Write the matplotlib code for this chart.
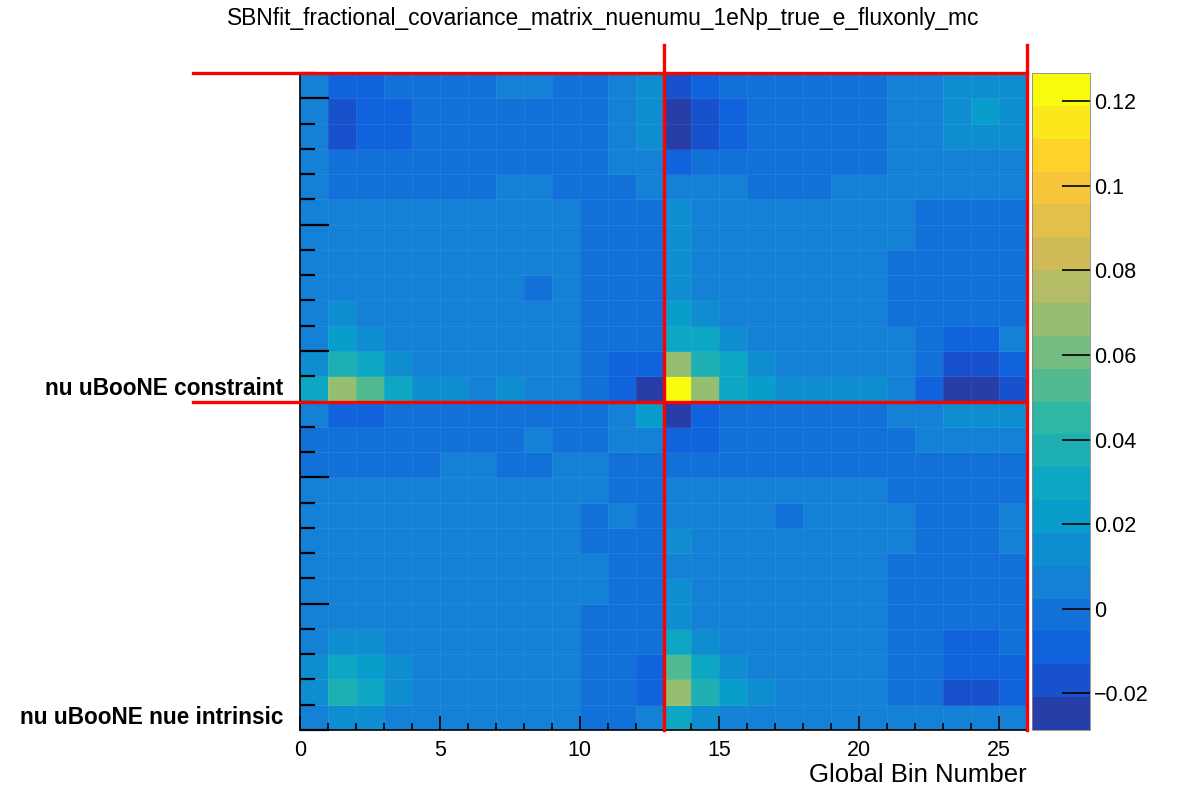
import matplotlib
matplotlib.use("Agg")
import matplotlib.pyplot as plt
import numpy as np
from matplotlib.colors import LinearSegmentedColormap, ListedColormap, BoundaryNorm
from matplotlib.ticker import MultipleLocator
from matplotlib.transforms import blended_transform_factory

plt.rcParams['font.family'] = ['Liberation Sans', 'DejaVu Sans']

title = "SBNfit_fractional_covariance_matrix_nuenumu_1eNp_true_e_fluxonly_mc"
x_label = "Global Bin Number"
n_bins = 26
channel_starts = [0, 13]
channel_names = ["nu uBooNE nue intrinsic", "nu uBooNE constraint"]
block_edges = [13, 26]
z_min, z_max = -0.0287, 0.1267
n_contours = 20
cbar_ticks = [-0.02, 0.0, 0.02, 0.04, 0.06, 0.08, 0.1, 0.12]
cbar_labels = ["\u22120.02", "0", "0.02", "0.04", "0.06", "0.08", "0.1", "0.12"]

# fractional covariance, row = y bin (0 at bottom), column = x bin
frac_cov = [
    [0.006, 0.014, 0.014, 0.006, 0.006, 0.006, 0.006, 0.006, 0.006, 0.006, -0.002, -0.002, 0.006,
     0.030, 0.014, 0.006, 0.006, 0.006, 0.006, 0.006, 0.006, 0.006, 0.006, 0.006, 0.006, 0.006],
    [0.014, 0.037, 0.030, 0.014, 0.006, 0.006, 0.006, 0.006, 0.006, 0.006, -0.002, -0.002, -0.009,
     0.068, 0.037, 0.022, 0.014, 0.006, 0.006, 0.006, 0.006, -0.002, -0.002, -0.017, -0.017, -0.009],
    [0.014, 0.030, 0.022, 0.014, 0.006, 0.006, 0.006, 0.006, 0.006, 0.006, -0.002, -0.002, -0.009,
     0.053, 0.030, 0.014, 0.006, 0.006, 0.006, 0.006, 0.006, -0.002, -0.002, -0.009, -0.009, -0.009],
    [0.006, 0.014, 0.014, 0.006, 0.006, 0.006, 0.006, 0.006, 0.006, 0.006, -0.002, -0.002, -0.002,
     0.030, 0.014, 0.006, 0.006, 0.006, 0.006, 0.006, 0.006, -0.002, -0.002, -0.009, -0.009, -0.002],
    [0.006, 0.006, 0.006, 0.006, 0.006, 0.006, 0.006, 0.006, 0.006, 0.006, -0.002, -0.002, -0.002,
     0.014, 0.006, 0.006, 0.006, 0.006, 0.006, 0.006, 0.006, -0.002, -0.002, -0.002, -0.002, -0.002],
    [0.006, 0.006, 0.006, 0.006, 0.006, 0.006, 0.006, 0.006, 0.006, 0.006, 0.006, -0.002, -0.002,
     0.014, 0.006, 0.006, 0.006, 0.006, 0.006, 0.006, 0.006, -0.002, -0.002, -0.002, -0.002, -0.002],
    [0.006, 0.006, 0.006, 0.006, 0.006, 0.006, 0.006, 0.006, 0.006, 0.006, 0.006, -0.002, -0.002,
     0.006, 0.006, 0.006, 0.006, 0.006, 0.006, 0.006, 0.006, -0.002, -0.002, -0.002, -0.002, -0.002],
    [0.006, 0.006, 0.006, 0.006, 0.006, 0.006, 0.006, 0.006, 0.006, 0.006, -0.002, -0.002, -0.002,
     0.014, 0.006, 0.006, 0.006, 0.006, 0.006, 0.006, 0.006, 0.006, -0.002, -0.002, -0.002, 0.006],
    [0.006, 0.006, 0.006, 0.006, 0.006, 0.006, 0.006, 0.006, 0.006, 0.006, -0.002, 0.006, -0.002,
     0.006, 0.006, 0.006, 0.006, -0.002, 0.006, 0.006, 0.006, 0.006, -0.002, -0.002, -0.002, 0.006],
    [0.006, 0.006, 0.006, 0.006, 0.006, 0.006, 0.006, 0.006, 0.006, 0.006, 0.006, -0.002, -0.002,
     0.006, 0.006, 0.006, 0.006, 0.006, 0.006, 0.006, 0.006, -0.002, -0.002, -0.002, -0.002, -0.002],
    [-0.002, -0.002, -0.002, -0.002, -0.002, 0.006, 0.006, -0.002, -0.002, 0.006, 0.006, -0.002, -0.002,
     -0.002, -0.002, -0.002, -0.002, -0.002, -0.002, -0.002, -0.002, -0.002, -0.002, -0.002, -0.002, -0.002],
    [-0.002, -0.002, -0.002, -0.002, -0.002, -0.002, -0.002, -0.002, 0.006, -0.002, -0.002, 0.006, 0.006,
     -0.009, -0.009, -0.002, -0.002, -0.002, -0.002, -0.002, -0.002, -0.002, 0.006, 0.006, 0.006, 0.006],
    [0.006, -0.009, -0.009, -0.002, -0.002, -0.002, -0.002, -0.002, -0.002, -0.002, -0.002, 0.006, 0.022,
     -0.025, -0.009, -0.002, -0.002, -0.002, -0.002, -0.002, -0.002, 0.006, 0.006, 0.014, 0.014, 0.014],
    [0.030, 0.068, 0.053, 0.030, 0.014, 0.014, 0.006, 0.014, 0.006, 0.006, -0.002, -0.009, -0.025,
     0.1265, 0.068, 0.030, 0.022, 0.014, 0.014, 0.014, 0.014, 0.006, -0.009, -0.025, -0.025, -0.017],
    [0.014, 0.037, 0.030, 0.014, 0.006, 0.006, 0.006, 0.006, 0.006, 0.006, -0.002, -0.009, -0.009,
     0.068, 0.037, 0.030, 0.014, 0.006, 0.006, 0.006, 0.006, 0.006, -0.002, -0.017, -0.017, -0.009],
    [0.006, 0.022, 0.014, 0.006, 0.006, 0.006, 0.006, 0.006, 0.006, 0.006, -0.002, -0.002, -0.002,
     0.030, 0.030, 0.014, 0.006, 0.006, 0.006, 0.006, 0.006, 0.006, -0.002, -0.009, -0.009, 0.006],
    [0.006, 0.014, 0.006, 0.006, 0.006, 0.006, 0.006, 0.006, 0.006, 0.006, -0.002, -0.002, -0.002,
     0.022, 0.014, 0.006, 0.006, 0.006, 0.006, 0.006, 0.006, -0.002, -0.002, -0.002, -0.002, -0.002],
    [0.006, 0.006, 0.006, 0.006, 0.006, 0.006, 0.006, 0.006, -0.002, 0.006, -0.002, -0.002, -0.002,
     0.014, 0.006, 0.006, 0.006, 0.006, 0.006, 0.006, 0.006, -0.002, -0.002, -0.002, -0.002, -0.002],
    [0.006, 0.006, 0.006, 0.006, 0.006, 0.006, 0.006, 0.006, 0.006, 0.006, -0.002, -0.002, -0.002,
     0.014, 0.006, 0.006, 0.006, 0.006, 0.006, 0.006, 0.006, -0.002, -0.002, -0.002, -0.002, -0.002],
    [0.006, 0.006, 0.006, 0.006, 0.006, 0.006, 0.006, 0.006, 0.006, 0.006, -0.002, -0.002, -0.002,
     0.014, 0.006, 0.006, 0.006, 0.006, 0.006, 0.006, 0.006, 0.006, -0.002, -0.002, -0.002, -0.002],
    [0.006, 0.006, 0.006, 0.006, 0.006, 0.006, 0.006, 0.006, 0.006, 0.006, -0.002, -0.002, -0.002,
     0.014, 0.006, 0.006, 0.006, 0.006, 0.006, 0.006, 0.006, 0.006, -0.002, -0.002, -0.002, -0.002],
    [0.006, -0.002, -0.002, -0.002, -0.002, -0.002, -0.002, 0.006, 0.006, -0.002, -0.002, -0.002, 0.006,
     0.006, 0.006, 0.006, -0.002, -0.002, -0.002, 0.006, 0.006, 0.006, 0.006, 0.006, 0.006, 0.006],
    [0.006, -0.002, -0.002, -0.002, -0.002, -0.002, -0.002, -0.002, -0.002, -0.002, -0.002, 0.006, 0.006,
     -0.009, -0.002, -0.002, -0.002, -0.002, -0.002, -0.002, -0.002, 0.006, 0.006, 0.006, 0.006, 0.006],
    [0.006, -0.017, -0.009, -0.009, -0.002, -0.002, -0.002, -0.002, -0.002, -0.002, -0.002, 0.006, 0.014,
     -0.025, -0.017, -0.009, -0.002, -0.002, -0.002, -0.002, -0.002, 0.006, 0.006, 0.014, 0.014, 0.014],
    [0.006, -0.017, -0.009, -0.009, -0.002, -0.002, -0.002, -0.002, -0.002, -0.002, -0.002, 0.006, 0.014,
     -0.025, -0.017, -0.009, -0.002, -0.002, -0.002, -0.002, -0.002, 0.006, 0.006, 0.014, 0.022, 0.014],
    [0.006, -0.009, -0.009, -0.002, -0.002, -0.002, -0.002, 0.006, 0.006, -0.002, -0.002, 0.006, 0.014,
     -0.017, -0.009, -0.002, -0.002, -0.002, -0.002, -0.002, -0.002, 0.006, 0.006, 0.014, 0.014, 0.014],
]

# ROOT kBird palette, sampled the way COLZ picks its 20 contour colours
bird_stops = [0.0, 0.125, 0.25, 0.375, 0.5, 0.625, 0.75, 0.875, 1.0]
bird_r = [0.2082, 0.0592, 0.0780, 0.0232, 0.1802, 0.5301, 0.8186, 0.9956, 0.9764]
bird_g = [0.1664, 0.3599, 0.5041, 0.6419, 0.7178, 0.7492, 0.7328, 0.7862, 0.9832]
bird_b = [0.5293, 0.8684, 0.8385, 0.7914, 0.6425, 0.4662, 0.3499, 0.1968, 0.0539]
bird = LinearSegmentedColormap.from_list(
    "bird", list(zip(bird_stops, zip(bird_r, bird_g, bird_b))), N=255)
picks = [int((i + 0.99) * 255 / n_contours) / 254 for i in range(n_contours)]
cmap = ListedColormap([bird(p) for p in picks])
levels = np.linspace(z_min, z_max, n_contours + 1)
norm = BoundaryNorm(levels, cmap.N)

W, H = 1183, 791
fig = plt.figure(figsize=(W / 100, H / 100), dpi=100)
ax = fig.add_axes([300 / W, 1 - 730 / H, 727 / W, 657 / H])
cax = fig.add_axes([1032 / W, 1 - 730 / H, 58 / W, 657 / H])

edges = np.arange(n_bins + 1)
mesh = ax.pcolormesh(edges, edges, np.array(frac_cov), cmap=cmap, norm=norm,
                     edgecolors=(1, 1, 1, 0.07), linewidth=0.6)
ax.set_xlim(0, n_bins)
ax.set_ylim(0, n_bins)

ax.xaxis.set_major_locator(MultipleLocator(5))
ax.xaxis.set_minor_locator(MultipleLocator(1))
ax.yaxis.set_major_locator(MultipleLocator(5))
ax.yaxis.set_minor_locator(MultipleLocator(1))
ax.tick_params(axis='x', which='major', direction='in', length=10, width=1.2,
               labelsize=15.5, pad=7, top=False)
ax.tick_params(axis='x', which='minor', direction='in', length=5, width=1.2, top=False)
ax.tick_params(axis='y', which='major', direction='in', length=21, width=1.6,
               labelleft=False, right=False)
ax.tick_params(axis='y', which='minor', direction='in', length=11, width=1.6, right=False)
for s in ax.spines.values():
    s.set_linewidth(1.2)

ax.set_xlabel(x_label, fontsize=18.5, loc='right', labelpad=2)

ylab_tr = blended_transform_factory(ax.transAxes, ax.transData)
for start, name in zip(channel_starts, channel_names):
    ax.text(-0.023, start + 0.5, name, transform=ylab_tr, ha='right', va='center',
            fontsize=16.3, fontweight='bold')

# subchannel boundaries
h_tr = blended_transform_factory(ax.transAxes, ax.transData)
v_tr = blended_transform_factory(ax.transData, ax.transAxes)
for b in block_edges:
    ax.plot([-0.147, 1.0], [b, b], transform=h_tr, color='red', lw=2.4,
            clip_on=False, zorder=5)
    ax.plot([b, b], [0.0, 1.0426], transform=v_tr, color='red', lw=2.4,
            clip_on=False, zorder=5)

cb = fig.colorbar(mesh, cax=cax, ticks=cbar_ticks)
cb.set_ticklabels(cbar_labels)
cax.tick_params(direction='in', length=20, width=1.2, labelsize=15.5, pad=3,
                right=True, left=False)
cax.minorticks_off()
cb.outline.set_linewidth(0.6)
cb.outline.set_edgecolor('#888888')

fig.text(603 / W, 1 - 18 / H, title, ha='center', va='center', fontsize=16.4)

fig.savefig("out.png", dpi=100)
